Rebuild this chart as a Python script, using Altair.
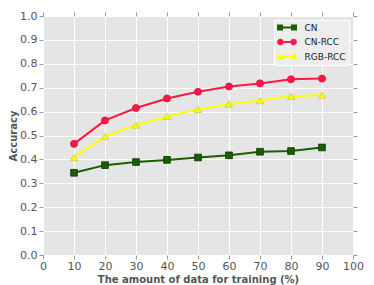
import altair as alt
import pandas as pd

# ---- data ----
train_pct = [10, 20, 30, 40, 50, 60, 70, 80, 90]
cn = [0.344, 0.376, 0.389, 0.398, 0.408, 0.417, 0.432, 0.435, 0.450]
cn_rcc = [0.465, 0.563, 0.615, 0.655, 0.683, 0.705, 0.718, 0.735, 0.738]
rgb_rcc = [0.408, 0.496, 0.544, 0.580, 0.610, 0.632, 0.646, 0.664, 0.669]

series_names = ["CN", "CN-RCC", "RGB-RCC"]
series_values = [cn, cn_rcc, rgb_rcc]
colors = ["#1B5E00", "#FF1747", "#FFFF00"]
edge_colors = ["#0E3500", "#E0103C", "#C8C85A"]
shapes = ["square", "circle", "triangle-up"]
marker_sizes = [36, 45, 55]

x_ticks = list(range(0, 101, 10))
y_ticks = [round(i * 0.1, 1) for i in range(11)]

rows = []
for name, vals in zip(series_names, series_values):
    for xv, yv in zip(train_pct, vals):
        rows.append({"series": name, "pct": xv, "acc": yv})
df = pd.DataFrame(rows)

FONT = "DejaVu Sans"
GRAY = "#555555"
TICK = "#999999"

# legend glyphs: marker - line - marker (units scaled by sqrt(symbolSize)/2 = 3px)
sq = ("M-3.333,-1H-1.333V1H-3.333Z "
      "M-1.333,-0.333H1.333V0.333H-1.333Z "
      "M1.333,-1H3.333V1H1.333Z")
ci = ("M-1.1,0A1.1,1.1 0 1,1 -3.3,0A1.1,1.1 0 1,1 -1.1,0Z "
      "M-1.1,-0.333H1.1V0.333H-1.1Z "
      "M3.3,0A1.1,1.1 0 1,1 1.1,0A1.1,1.1 0 1,1 3.3,0Z")
tr = ("M-2.3,-1.25L-1.1,0.85L-3.5,0.85Z "
      "M-1.6,-0.333H1.6V0.333H-1.6Z "
      "M2.3,-1.25L3.5,0.85L1.1,0.85Z")
shape_expr = (
    f"datum.value === 'CN' ? '{sq}' : datum.value === 'CN-RCC' ? '{ci}' : '{tr}'"
)

# reversed domain order for the non-legend scales so that Vega-Lite does not
# merge them into the colour legend
rev_names = series_names[::-1]

x_scale = alt.Scale(domain=[0, 100], nice=False, zero=False)
y_scale = alt.Scale(domain=[0, 1], nice=False)
color_scale = alt.Scale(domain=series_names, range=colors)

x_axis = alt.Axis(
    values=x_ticks, format="d", grid=True, gridColor="white", gridWidth=1,
    domain=False, ticks=True, tickColor=TICK, tickSize=4, labelFont=FONT,
    labelFontSize=11, labelColor=GRAY, labelPadding=1, labelFlush=False,
    labelOverlap=False, title="The amount of data for training (%)",
    titleFont=FONT, titleFontSize=10, titleFontWeight="bold",
    titleColor=GRAY, titlePadding=3, orient="bottom",
)
y_axis = alt.Axis(
    values=y_ticks, format=".1f", grid=True, gridColor="white", gridWidth=1,
    domain=False, ticks=True, tickColor=TICK, tickSize=4, labelFont=FONT,
    labelFontSize=11, labelColor=GRAY, labelPadding=2, labelFlush=False,
    labelOverlap=False, title="Accuracy", titleFont=FONT, titleFontSize=10,
    titleFontWeight="bold", titleColor=GRAY, titlePadding=1, orient="left",
)
x_axis_top = alt.Axis(
    values=x_ticks, grid=False, domain=False, labels=False, ticks=True,
    tickColor=TICK, tickSize=4, title=None, orient="top",
)
y_axis_right = alt.Axis(
    values=y_ticks, grid=False, domain=False, labels=False, ticks=True,
    tickColor=TICK, tickSize=4, title=None, orient="right",
)

lines = alt.Chart(df).mark_line(strokeWidth=2).encode(
    x=alt.X("pct:Q", scale=x_scale, axis=x_axis),
    y=alt.Y("acc:Q", scale=y_scale, axis=y_axis),
    stroke=alt.Stroke("series:N", scale=alt.Scale(domain=rev_names, range=colors[::-1]), legend=None),
    detail="series:N",
)

points = alt.Chart(df).mark_point(filled=True, opacity=1, strokeWidth=0.8).encode(
    x=alt.X("pct:Q", scale=x_scale, axis=x_axis_top),
    y=alt.Y("acc:Q", scale=y_scale, axis=y_axis_right),
    color=alt.Color(
        "series:N", scale=color_scale,
        legend=alt.Legend(
            title=None, orient="none", legendX=231, legendY=4,
            direction="vertical",
            symbolType=alt.ExprRef(expr=shape_expr),
            symbolSize=36, symbolStrokeWidth=0, symbolOffset=5.5,
            labelOffset=13, labelFont=FONT, labelFontSize=9,
            labelColor="#222222", rowPadding=4.5, padding=3,
            fillColor="#EDEDED", strokeColor="#FFFFFF",
        ),
    ),
    stroke=alt.Stroke("series:N", scale=alt.Scale(domain=rev_names, range=edge_colors[::-1]), legend=None),
    shape=alt.Shape("series:N", scale=alt.Scale(domain=rev_names, range=shapes[::-1]), legend=None),
    size=alt.Size("series:N", scale=alt.Scale(domain=rev_names, range=marker_sizes[::-1]), legend=None),
)

chart = alt.layer(lines, points).resolve_axis(
    x="independent", y="independent"
).resolve_scale(stroke="independent").properties(
    width=310, height=239,
    autosize=alt.AutoSizeParams(type="none"),
    padding={"left": 35, "top": 8, "right": 12, "bottom": 30},
).configure_view(fill="#E5E5E5", strokeWidth=0)

chart.save("out.html", embed_options={"renderer": "svg", "actions": False})
